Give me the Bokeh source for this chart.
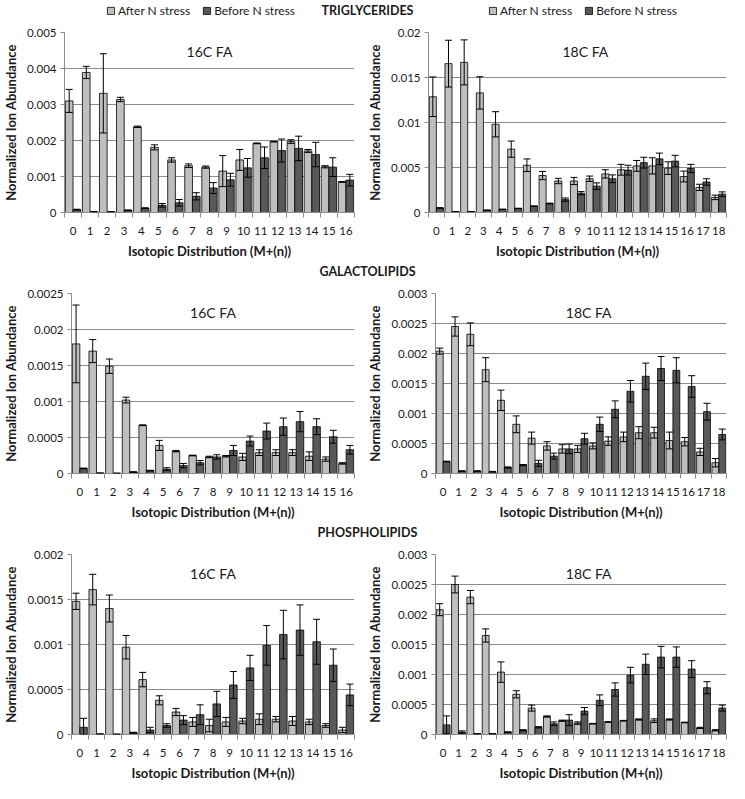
from bokeh.plotting import figure
from bokeh.models import (ColumnDataSource, Range1d, FixedTicker, Whisker, TeeHead,
                          Label, Legend, LegendItem)
from bokeh.layouts import column, row
from bokeh.transform import dodge
from bokeh.embed import file_html
from bokeh.resources import INLINE

# ---------------- data ----------------
M16 = [0, 1, 2, 3, 4, 5, 6, 7, 8, 9, 10, 11, 12, 13, 14, 15, 16]
M18 = [0, 1, 2, 3, 4, 5, 6, 7, 8, 9, 10, 11, 12, 13, 14, 15, 16, 17, 18]

SERIES = ["After N stress", "Before N stress"]
SECTIONS = ["TRIGLYCERIDES", "GALACTOLIPIDS", "PHOSPHOLIPIDS"]

# Triglycerides 16C
tg16_after = [0.0031, 0.00389, 0.00331, 0.00314, 0.00238, 0.00181, 0.00146, 0.0013, 0.00126,
              0.00115, 0.00146, 0.00192, 0.00197, 0.00197, 0.00171, 0.00127, 0.00085]
tg16_after_err = [0.00032, 0.00017, 0.0011, 0.00006, 0.00002, 0.00007, 0.00006, 0.00005, 0.00003,
                  0.00043, 0.00029, 0.00001, 0.00001, 0.00005, 0.00004, 0.00003, 0.00001]
tg16_before = [0.00008, 0.00002, 0.00002, 0.00006, 0.00012, 0.0002, 0.00027, 0.00045, 0.00068,
               0.00091, 0.00124, 0.00152, 0.00172, 0.00178, 0.00161, 0.00126, 0.0009]
tg16_before_err = [0.00001, 0.000005, 0.000005, 0.00001, 0.00001, 0.00005, 0.00009, 0.0001, 0.00015,
                   0.00018, 0.00026, 0.0003, 0.00032, 0.00034, 0.00034, 0.00026, 0.00016]

# Triglycerides 18C
tg18_after = [0.01286, 0.01654, 0.01668, 0.01329, 0.0098, 0.00704, 0.00525, 0.00411, 0.0035, 0.0035,
              0.00375, 0.00429, 0.00475, 0.00518, 0.00518, 0.00493, 0.004, 0.00279, 0.00168]
tg18_after_err = [0.0022, 0.0026, 0.0025, 0.0018, 0.0014, 0.0009, 0.0007, 0.00046, 0.0003, 0.0004,
                  0.0003, 0.00046, 0.0006, 0.0006, 0.0009, 0.0007, 0.0006, 0.00035, 0.00025]
tg18_before = [0.0005, 0.0001, 0.0001, 0.00025, 0.00035, 0.00045, 0.0007, 0.001, 0.00143, 0.00214,
               0.00293, 0.00375, 0.00471, 0.00554, 0.00596, 0.00571, 0.00489, 0.00339, 0.00204]
tg18_before_err = [0.00003, 0.00001, 0.00001, 0.00002, 0.00002, 0.00002, 0.00003, 0.00004, 0.00018,
                   0.00018, 0.00036, 0.00043, 0.00054, 0.0006, 0.00064, 0.00064, 0.00046, 0.00036, 0.00025]

# Galactolipids 16C
gl16_after = [0.0018, 0.0017, 0.00149, 0.00102, 0.00067, 0.00039, 0.00031, 0.00025, 0.00023,
              0.00024, 0.00023, 0.00029, 0.00029, 0.00029, 0.00024, 0.0002, 0.00014]
gl16_after_err = [0.00054, 0.00016, 0.0001, 0.00004, 0.000005, 0.00007, 0.00001, 0.000005, 0.00001,
                  0.00001, 0.00005, 0.00004, 0.00004, 0.00004, 0.00006, 0.00003, 0.00001]
gl16_before = [0.00007, 0.000005, 0.000003, 0.00002, 0.00004, 0.00006, 0.00011, 0.00015, 0.00023,
               0.00032, 0.00045, 0.00059, 0.00065, 0.00072, 0.00065, 0.00051, 0.00033]
gl16_before_err = [0.000005, 0.0, 0.0, 0.000005, 0.000005, 0.00002, 0.00003, 0.00003, 0.00003,
                   0.00007, 0.00007, 0.00011, 0.00012, 0.00014, 0.00011, 0.00009, 0.00006]

# Galactolipids 18C
gl18_after = [0.00204, 0.00245, 0.00232, 0.00173, 0.00122, 0.00082, 0.00059, 0.00046, 0.00041, 0.00041,
              0.00046, 0.00054, 0.00061, 0.00068, 0.00068, 0.00055, 0.00053, 0.00036, 0.00018]
gl18_after_err = [0.00005, 0.00016, 0.00019, 0.0002, 0.00017, 0.00014, 0.0001, 0.00007, 0.00007, 0.00006,
                  0.00005, 0.00007, 0.00008, 0.0001, 0.00009, 0.00014, 0.00007, 0.00006, 0.00007]
gl18_before = [0.0002, 0.00004, 0.00004, 0.00003, 0.0001, 0.00014, 0.00017, 0.00029, 0.00041, 0.00058,
               0.00082, 0.00107, 0.00137, 0.00162, 0.00175, 0.00172, 0.00145, 0.00103, 0.00065]
gl18_before_err = [0.000005, 0.000005, 0.000005, 0.000005, 0.00001, 0.00001, 0.00005, 0.00005, 0.00008,
                   0.00009, 0.00012, 0.00014, 0.00018, 0.00022, 0.0002, 0.00021, 0.00018, 0.00014, 0.00009]

# Phospholipids 16C
pl16_after = [0.00148, 0.00161, 0.0014, 0.00097, 0.00061, 0.00038, 0.00025, 0.00014, 0.0001,
              0.00014, 0.00015, 0.00017, 0.00017, 0.00015, 0.00014, 0.0001, 0.00005]
pl16_after_err = [0.00009, 0.00017, 0.00015, 0.00013, 0.00008, 0.00005, 0.00004, 0.00005, 0.00007,
                  0.00005, 0.00003, 0.00006, 0.00003, 0.00005, 0.00003, 0.00002, 0.00003]
pl16_before = [0.00008, 0.000005, 0.000003, 0.00002, 0.00005, 0.0001, 0.00016, 0.00022, 0.00034,
               0.00055, 0.00074, 0.00099, 0.00111, 0.00116, 0.00103, 0.00077, 0.00044]
pl16_before_err = [0.0001, 0.0, 0.0, 0.000005, 0.00003, 0.00002, 0.00005, 0.00011, 0.00014,
                   0.00015, 0.00014, 0.00022, 0.00027, 0.00028, 0.00025, 0.00018, 0.00012]

# Phospholipids 18C
pl18_after = [0.00208, 0.0025, 0.00229, 0.00165, 0.00104, 0.00067, 0.00044, 0.0003, 0.00023, 0.00019,
              0.00018, 0.00021, 0.00023, 0.00025, 0.00023, 0.00025, 0.0002, 0.00011, 0.00007]
pl18_after_err = [0.0001, 0.00014, 0.00011, 0.00011, 0.00017, 0.00006, 0.00005, 0.00001, 0.00001, 0.00002,
                  0.000005, 0.000005, 0.000005, 0.00001, 0.00003, 0.00001, 0.000005, 0.00001, 0.00001]
pl18_before = [0.00016, 0.00004, 0.00001, 0.00001, 0.00004, 0.00007, 0.00012, 0.00018, 0.00024, 0.00039,
               0.00057, 0.00075, 0.00099, 0.00117, 0.00129, 0.00129, 0.00109, 0.00078, 0.00044]
pl18_before_err = [0.00015, 0.00002, 0.000005, 0.000005, 0.000005, 0.00001, 0.00001, 0.00003, 0.00009,
                   0.00006, 0.00009, 0.00011, 0.00013, 0.00017, 0.00018, 0.00017, 0.00014, 0.0001, 0.00005]

# y ticks / labels
TG16_TICKS = [0, 0.001, 0.002, 0.003, 0.004, 0.005]
TG16_LABELS = ["0", "0.001", "0.002", "0.003", "0.004", "0.005"]
TG18_TICKS = [0, 0.005, 0.01, 0.015, 0.02]
TG18_LABELS = ["0", "0.005", "0.01", "0.015", "0.02"]
GL16_TICKS = [0, 0.0005, 0.001, 0.0015, 0.002, 0.0025]
GL16_LABELS = ["0", "0.0005", "0.001", "0.0015", "0.002", "0.0025"]
GL18_TICKS = [0, 0.0005, 0.001, 0.0015, 0.002, 0.0025, 0.003]
GL18_LABELS = ["0", "0.0005", "0.001", "0.0015", "0.002", "0.0025", "0.003"]
PL16_TICKS = [0, 0.0005, 0.001, 0.0015, 0.002]
PL16_LABELS = ["0", "0.0005", "0.001", "0.0015", "0.002"]
PL18_TICKS = [0, 0.0005, 0.001, 0.0015, 0.002, 0.0025, 0.003]
PL18_LABELS = ["0", "0.0005", "0.001", "0.0015", "0.002", "0.0025", "0.003"]

# ---------------- style ----------------
FONT = "Lato"
AFTER_COLOR = "#bfbfbf"
BEFORE_COLOR = "#595959"
AXIS_GRAY = "#8c8c8c"
TEXT = "#1a1a1a"
TOTAL_W = 729
LEFT_W = 364
RIGHT_W = 365
HEAD_H = 20
PANEL_H = 241
BAR_W = 0.45


def panel(cats, after, after_err, before, before_err, ticks, labels, tag, width, tag_x, right_border):
    src = ColumnDataSource(dict(
        m=cats, after=after, before=before,
        a_up=[v + e for v, e in zip(after, after_err)],
        a_lo=[max(v - e, 0) for v, e in zip(after, after_err)],
        b_up=[v + e for v, e in zip(before, before_err)],
        b_lo=[max(v - e, 0) for v, e in zip(before, before_err)],
    ))
    p = figure(width=width, height=PANEL_H,
               x_range=Range1d(cats[0] - 0.5, cats[-1] + 0.5),
               y_range=Range1d(ticks[0], ticks[-1]),
               output_backend="svg", toolbar_location=None,
               min_border_top=12, min_border_bottom=46,
               min_border_right=right_border, min_border_left=5,
               outline_line_color=None, background_fill_color="white")
    p.vbar(x=dodge("m", -BAR_W / 2), top="after", width=BAR_W, source=src,
           fill_color=AFTER_COLOR, line_color="black", line_width=0.8)
    p.vbar(x=dodge("m", BAR_W / 2), top="before", width=BAR_W, source=src,
           fill_color=BEFORE_COLOR, line_color="black", line_width=0.8)
    for off, up, lo in ((-BAR_W / 2, "a_up", "a_lo"), (BAR_W / 2, "b_up", "b_lo")):
        w = Whisker(source=src, base=dodge("m", off), upper=up, lower=lo,
                    line_color="black", line_width=1,
                    upper_head=TeeHead(size=7, line_color="black", line_width=1),
                    lower_head=TeeHead(size=7, line_color="black", line_width=1),
                    level="annotation")
        p.add_layout(w)

    # x axis
    minor = [c - 0.5 for c in cats] + [cats[-1] + 0.5]
    p.xaxis.ticker = FixedTicker(ticks=cats, minor_ticks=minor)
    p.xaxis.major_tick_out = 0
    p.xaxis.major_tick_in = 0
    p.xaxis.minor_tick_out = 5
    p.xaxis.minor_tick_in = 0
    p.xaxis.minor_tick_line_color = AXIS_GRAY
    p.xaxis.axis_line_color = AXIS_GRAY
    p.xaxis.major_label_standoff = 9
    p.xaxis.axis_label = "Isotopic Distribution (M+(n))"
    p.xaxis.axis_label_standoff = 5
    p.xgrid.visible = False

    # y axis
    p.yaxis.ticker = FixedTicker(ticks=ticks)
    p.yaxis.major_label_overrides = dict(zip(ticks, labels))
    p.yaxis.major_tick_out = 4
    p.yaxis.major_tick_in = 0
    p.yaxis.minor_tick_line_color = None
    p.yaxis.major_tick_line_color = AXIS_GRAY
    p.yaxis.axis_line_color = AXIS_GRAY
    p.yaxis.major_label_standoff = 4
    p.yaxis.axis_label = "Normalized Ion Abundance"
    p.yaxis.axis_label_standoff = 5
    p.ygrid.ticker = FixedTicker(ticks=ticks)
    p.ygrid.grid_line_color = AXIS_GRAY
    p.ygrid.grid_line_width = 1

    for ax in (p.xaxis, p.yaxis):
        ax.major_label_text_font = FONT
        ax.major_label_text_font_size = "11.5px"
        ax.major_label_text_color = TEXT
        ax.axis_label_text_font = FONT
        ax.axis_label_text_font_size = "13px"
        ax.axis_label_text_font_style = "bold"
        ax.axis_label_text_color = TEXT

    p.add_layout(Label(x=tag_x, y=ticks[-1] * 0.895, text=tag, text_align="center",
                       text_baseline="middle", text_font=FONT, text_font_size="14px",
                       text_color=TEXT))
    return p, src


def header(title, legend_src=None):
    h = figure(width=TOTAL_W, height=HEAD_H, x_range=Range1d(0, TOTAL_W), y_range=Range1d(0, HEAD_H),
               x_axis_type=None, y_axis_type=None, toolbar_location=None,
               output_backend="svg", min_border=0, outline_line_color=None)
    h.grid.visible = False
    h.add_layout(Label(x=367, y=HEAD_H / 2, text=title, text_align="center",
                       text_baseline="middle", text_font=FONT, text_font_size="12.5px",
                       text_font_style="bold", text_color=TEXT))
    if legend_src is not None:
        # legend keys: the same bar series, mapped onto a range that lies off this strip
        h.extra_x_ranges = {"keys": Range1d(-200, -100)}
        ra = h.vbar(x="m", top="after", width=BAR_W, source=legend_src, x_range_name="keys",
                    fill_color=AFTER_COLOR, line_color="black", line_width=0.8)
        rb = h.vbar(x="m", top="before", width=BAR_W, source=legend_src, x_range_name="keys",
                    fill_color=BEFORE_COLOR, line_color="black", line_width=0.8)
        for x0 in (106, 488):
            lg = Legend(items=[LegendItem(label=SERIES[0], renderers=[ra]),
                               LegendItem(label=SERIES[1], renderers=[rb])],
                        location=(x0, 2), orientation="horizontal",
                        glyph_width=9, glyph_height=9, label_height=14,
                        label_standoff=3, spacing=12, padding=0, margin=0,
                        border_line_color=None, background_fill_alpha=0,
                        label_text_font=FONT, label_text_font_size="12px",
                        label_text_color=TEXT)
            h.add_layout(lg)
    return h


p1, s1 = panel(M16, tg16_after, tg16_after_err, tg16_before, tg16_before_err,
               TG16_TICKS, TG16_LABELS, "16C FA", LEFT_W, 8, 10)
p2, s2 = panel(M18, tg18_after, tg18_after_err, tg18_before, tg18_before_err,
               TG18_TICKS, TG18_LABELS, "18C FA", RIGHT_W, 9.5, 3)
p3, s3 = panel(M16, gl16_after, gl16_after_err, gl16_before, gl16_before_err,
               GL16_TICKS, GL16_LABELS, "16C FA", LEFT_W, 8, 10)
p4, s4 = panel(M18, gl18_after, gl18_after_err, gl18_before, gl18_before_err,
               GL18_TICKS, GL18_LABELS, "18C FA", RIGHT_W, 9.5, 3)
p5, s5 = panel(M16, pl16_after, pl16_after_err, pl16_before, pl16_before_err,
               PL16_TICKS, PL16_LABELS, "16C FA", LEFT_W, 8, 10)
p6, s6 = panel(M18, pl18_after, pl18_after_err, pl18_before, pl18_before_err,
               PL18_TICKS, PL18_LABELS, "18C FA", RIGHT_W, 9.5, 3)

layout = column(
    header(SECTIONS[0], s1), row(p1, p2),
    header(SECTIONS[1]), row(p3, p4),
    header(SECTIONS[2]), row(p5, p6),
)

open("out.html", "w").write(file_html(layout, INLINE, title="Isotopic distribution"))
